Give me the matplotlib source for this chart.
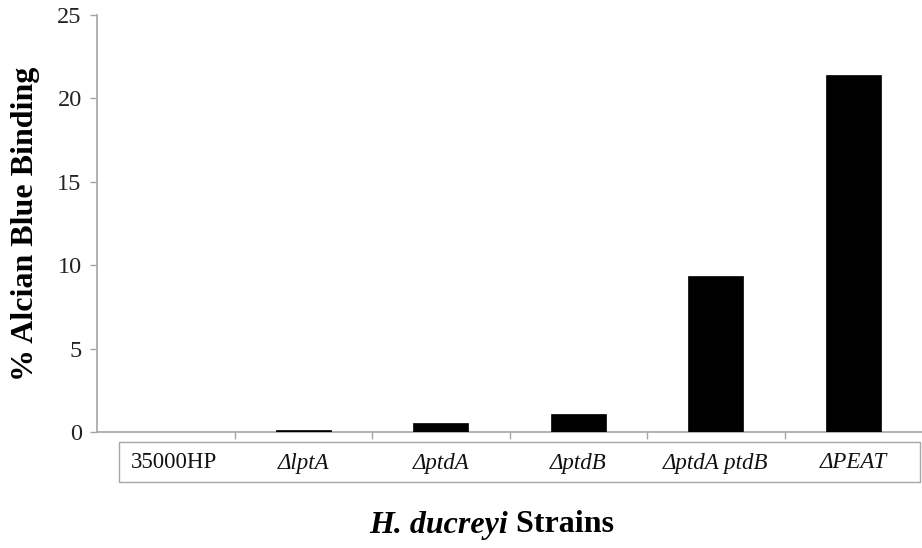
import matplotlib
matplotlib.use("Agg")
import matplotlib.pyplot as plt
from matplotlib.patches import Rectangle
import matplotlib.transforms as mtransforms

categories = ["35000HP", "ΔlptA", "ΔptdA", "ΔptdB", "ΔptdA ptdB", "ΔPEAT"]
italic_flags = [False, True, True, True, True, True]
values = [0.0, 0.1, 0.55, 1.06, 9.35, 21.38]
yticks = [0, 5, 10, 15, 20, 25]

plt.rcParams['font.family'] = ['Liberation Serif', 'DejaVu Serif']

W, H = 922, 548
fig = plt.figure(figsize=(W / 100, H / 100), dpi=100)
ax = fig.add_axes([97 / W, (H - 432) / H, (922 - 97) / W, (432 - 15) / H])

gray = '#a6a6a6'
x = list(range(len(categories)))
ax.bar(x, values, width=0.4, color='black', edgecolor='black', linewidth=0.5, zorder=3)

ax.set_xlim(-0.5, len(categories) - 0.5)
ax.set_ylim(0, 25)
ax.set_yticks(yticks)
ax.set_yticklabels([str(t) for t in yticks], fontsize=17.5)
ax.set_xticks([i + 0.5 for i in range(len(categories) - 1)])
ax.set_xticklabels([])
ax.tick_params(axis='x', direction='out', length=5, color=gray, width=1)
ax.tick_params(axis='y', direction='out', length=5, color=gray, width=1, pad=6, labelcolor='#222222')

for s in ['top', 'right']:
    ax.spines[s].set_visible(False)
for s in ['left', 'bottom']:
    ax.spines[s].set_color(gray)
    ax.spines[s].set_linewidth(1.2)

# label box below axis
trans = mtransforms.blended_transform_factory(ax.transData, ax.transAxes)
x0 = (119 - 97) / 137.5 - 0.5
x1 = (920 - 97) / 137.5 - 0.5
y0 = (432 - 482) / 417
y1 = (432 - 442) / 417
rect = Rectangle((x0, y0), x1 - x0, y1 - y0, transform=trans, fill=False,
                 edgecolor=gray, linewidth=1, clip_on=False)
ax.add_patch(rect)
ly = (432 - 463) / 417
for i, (c, it) in enumerate(zip(categories, italic_flags)):
    xx = i + (0.06 if i == 0 else 0)
    ax.text(xx, ly, c, transform=trans, ha='center', va='center', fontsize=16.5,
            style='italic' if it else 'normal', color='#111111', clip_on=False)

ax.set_ylabel('% Alcian Blue Binding', fontsize=23, fontweight='bold')
ax.yaxis.set_label_coords(-(97 - 40) / 825, 0.5)

# x title with mixed style
t1 = fig.text(0, (H - 525) / H, 'H. ducreyi', fontsize=23, fontweight='bold',
              style='italic', ha='left', va='center')
t2 = fig.text(0, (H - 525) / H, ' Strains', fontsize=23, fontweight='bold',
              ha='left', va='center')
fig.canvas.draw()
r = fig.canvas.get_renderer()
w1 = t1.get_window_extent(r).width
w2 = t2.get_window_extent(r).width
cx = 492
start = cx - (w1 + w2) / 2
t1.set_x(start / W)
t2.set_x((start + w1) / W)

fig.savefig('out.png', dpi=100)
